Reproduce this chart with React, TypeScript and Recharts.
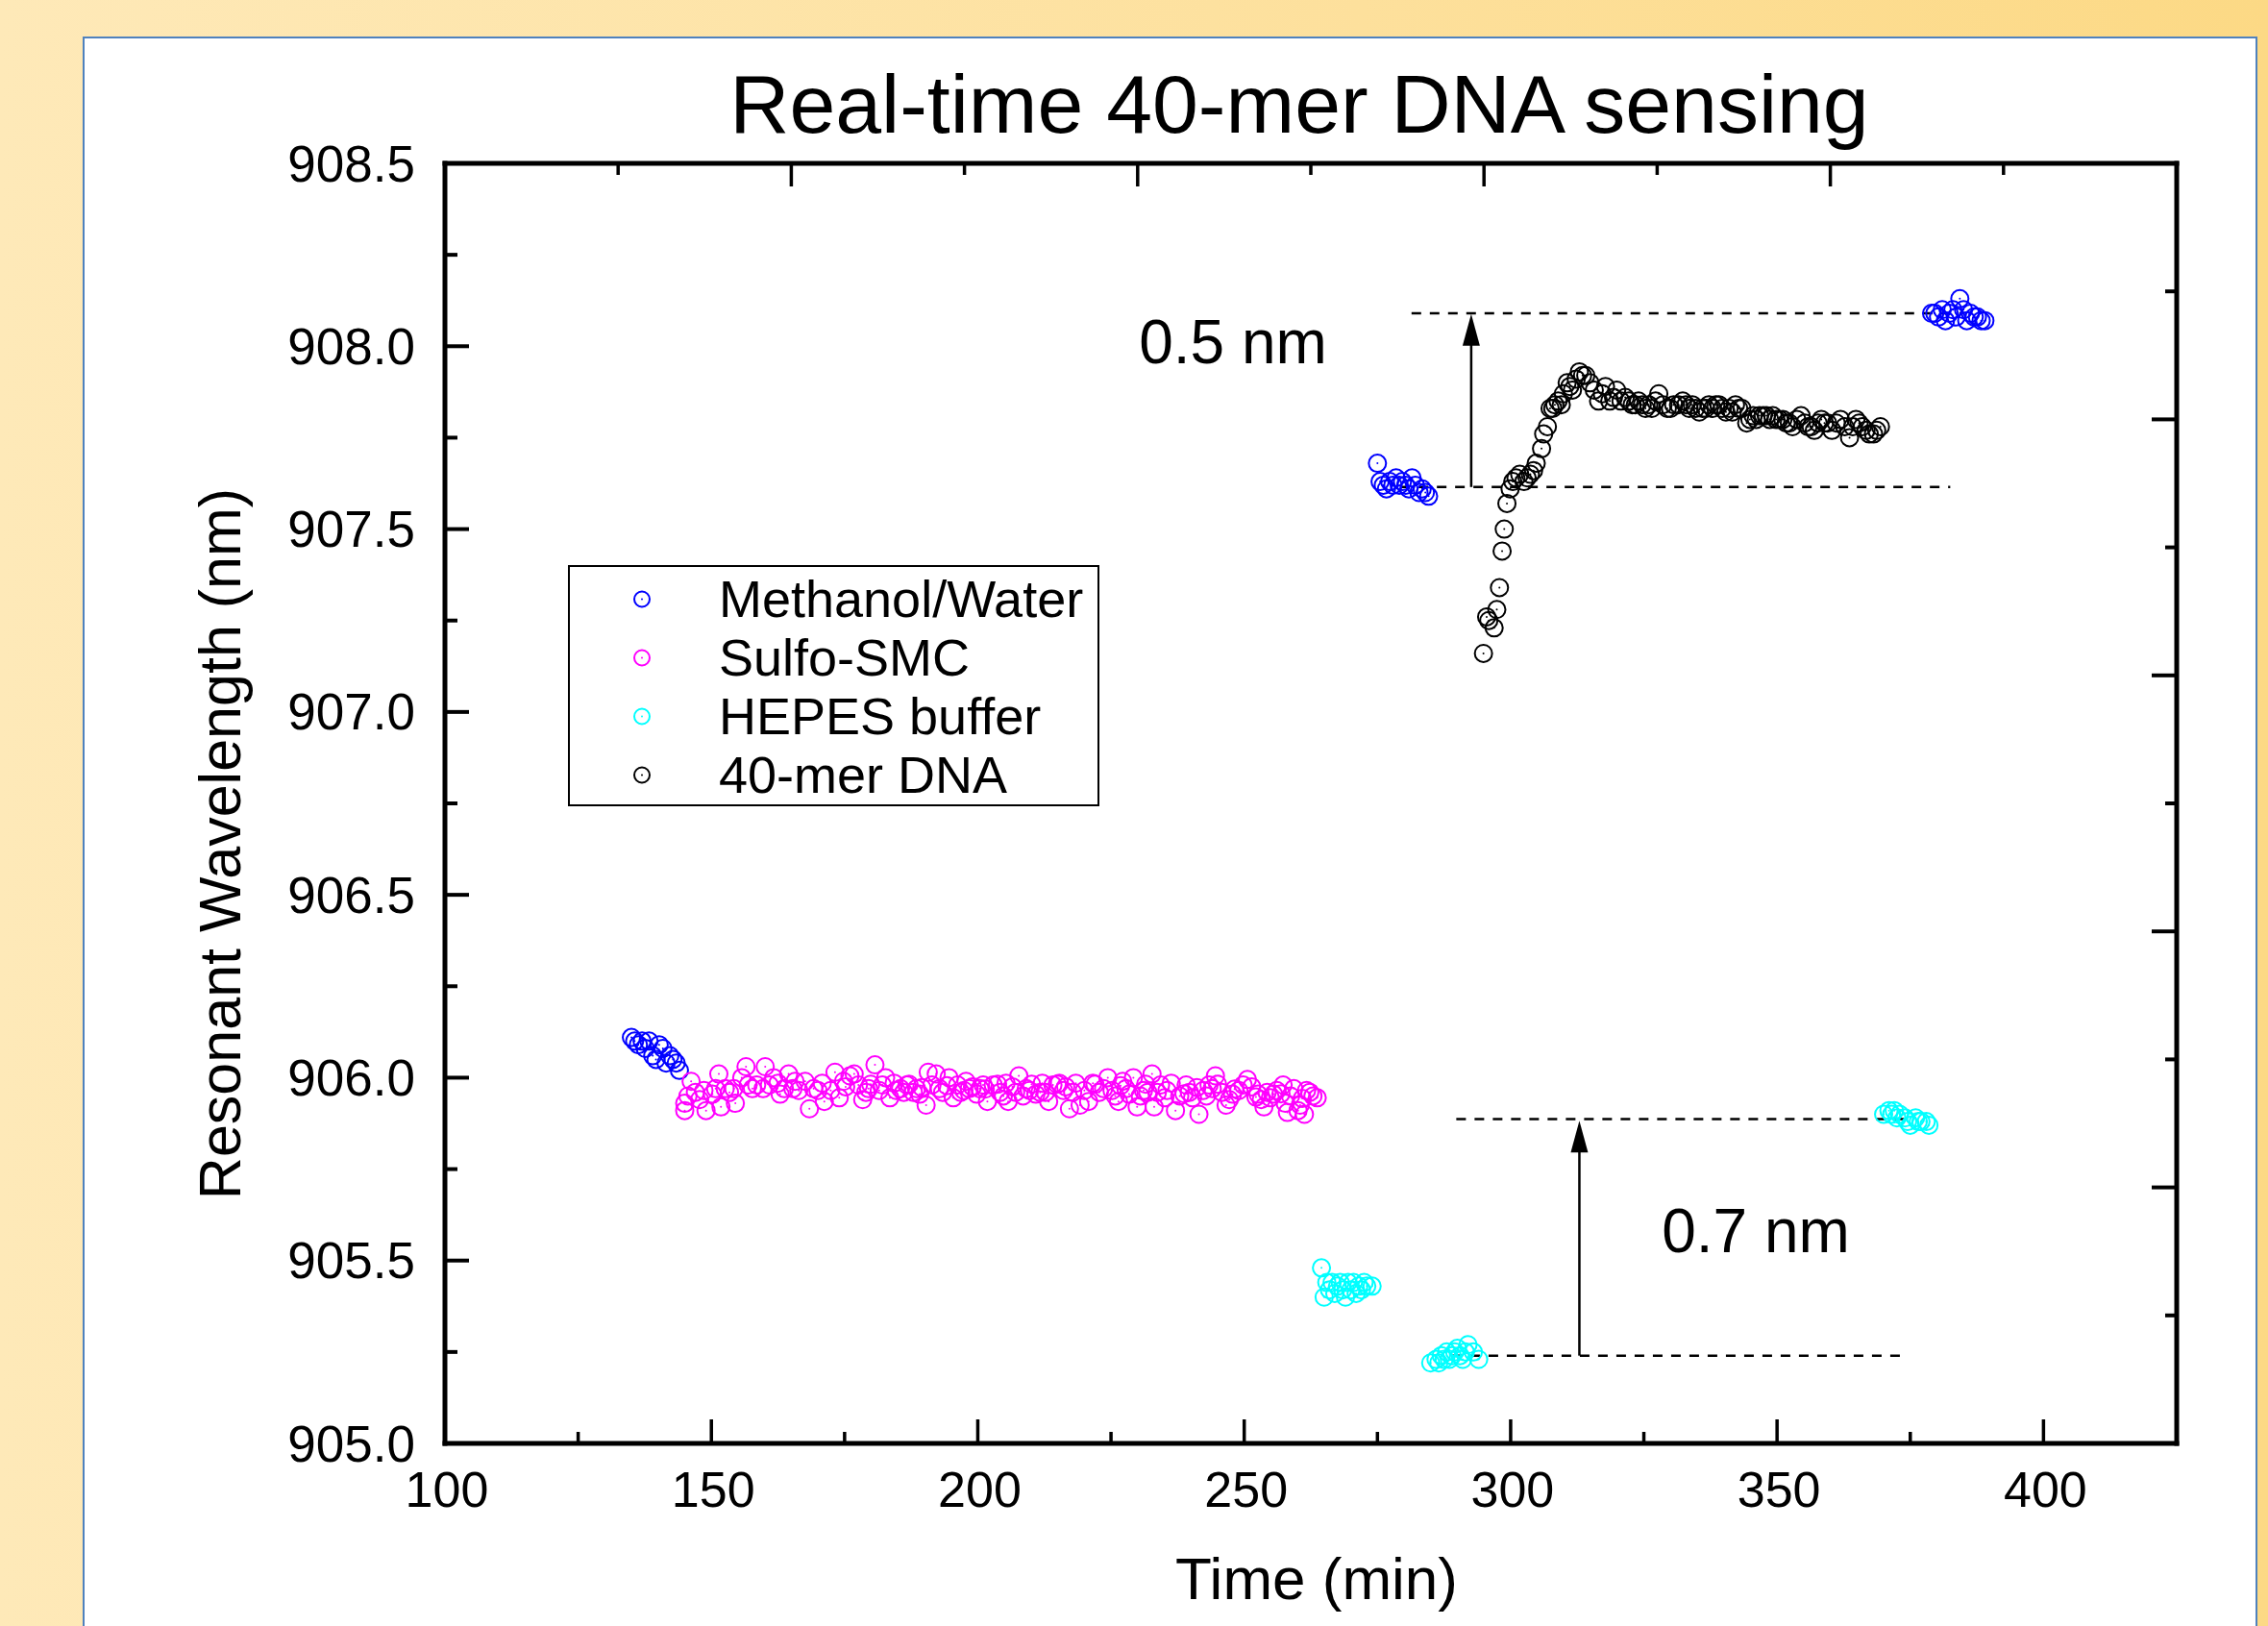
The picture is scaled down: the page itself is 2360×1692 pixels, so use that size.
import React from 'react';
import {
  ScatterChart,
  Scatter,
  XAxis,
  YAxis,
  Legend,
  Label,
  ReferenceLine,
  ReferenceDot,
} from 'recharts';

const FONT = '"Liberation Sans", Arial, Helvetica, sans-serif';

// [time (min), resonant wavelength (nm)]
const methanolWater: [number, number][] = [
  [135.0, 906.11], [135.6, 906.1], [136.3, 906.09], [137.0, 906.1], [137.6, 906.08], [138.3, 906.1],
  [139.0, 906.06], [139.6, 906.05], [140.2, 906.09], [140.9, 906.08], [141.5, 906.04], [142.2, 906.06],
  [142.8, 906.05], [143.4, 906.04], [144.0, 906.02],
  [275.0, 907.68], [275.5, 907.63], [276.1, 907.62], [276.7, 907.61], [277.3, 907.63], [277.9, 907.62],
  [278.5, 907.64], [279.1, 907.62], [279.7, 907.63], [280.3, 907.62], [280.9, 907.61], [281.5, 907.64],
  [282.1, 907.62], [282.8, 907.6], [283.4, 907.61], [284.0, 907.6], [284.6, 907.59],
  [379.0, 908.09], [379.6, 908.09], [380.3, 908.08], [381.0, 908.1], [381.6, 908.07], [382.3, 908.09],
  [383.0, 908.1], [383.6, 908.08], [384.3, 908.13], [385.0, 908.1], [385.6, 908.07], [386.3, 908.09],
  [387.0, 908.08], [387.6, 908.08], [388.3, 908.07], [389.0, 908.07],
];

const sulfoSmc: [number, number][] = [
  [145.0, 905.93], [145.0, 905.91], [145.6, 905.95], [146.2, 905.99], [147.0, 905.96], [147.8, 905.94],
  [148.6, 905.965], [149.0, 905.91], [150.2, 905.955], [150.8, 905.97], [151.4, 906.01], [151.8, 905.92],
  [152.6, 905.97], [153.4, 905.96], [154.2, 905.97], [154.5, 905.93], [155.7, 906.0], [156.5, 906.03],
  [156.9, 905.98], [157.7, 905.97], [158.5, 905.98], [159.7, 905.97], [160.1, 906.03], [160.9, 905.98],
  [161.7, 906.0], [162.5, 905.985], [162.9, 905.955], [163.7, 905.97], [164.5, 906.01], [165.3, 905.97],
  [165.7, 905.99], [166.4, 905.965], [167.6, 905.99], [168.4, 905.915], [169.2, 905.97], [170.0, 905.965],
  [170.8, 905.985], [171.2, 905.935], [172.4, 905.965], [173.2, 906.015], [174.0, 905.945], [174.8, 905.99],
  [175.2, 905.975], [176.0, 906.005], [176.8, 906.01], [177.6, 905.98], [178.4, 905.94], [179.0, 905.96],
  [179.5, 905.97], [179.9, 905.982], [180.7, 906.035], [181.5, 905.965], [182.1, 905.98], [182.7, 906.0],
  [183.5, 905.945], [184.3, 905.985], [184.7, 905.965], [185.5, 905.97], [186.1, 905.96], [186.7, 905.98],
  [187.1, 905.982], [187.9, 905.96], [188.5, 905.97], [189.1, 905.955], [189.5, 905.973], [190.3, 905.925],
  [190.7, 906.015], [191.4, 905.98], [192.2, 906.01], [192.8, 905.97], [193.4, 905.96], [194.2, 905.978],
  [194.6, 906.0], [195.4, 905.945], [196.2, 905.98], [196.8, 905.96], [197.4, 905.965], [197.8, 905.99],
  [198.4, 905.97], [199.0, 905.975], [199.8, 905.955], [200.4, 905.97], [201.0, 905.98], [201.4, 905.969],
  [201.8, 905.935], [202.9, 905.98], [203.7, 905.982], [204.2, 905.96], [204.8, 905.95], [205.3, 905.985],
  [205.7, 905.935], [206.5, 905.975], [207.1, 905.96], [207.7, 906.005], [208.5, 905.95], [209.1, 905.97],
  [209.7, 905.965], [210.1, 905.982], [210.9, 905.955], [211.7, 905.96], [212.1, 905.985], [212.7, 905.96],
  [213.3, 905.935], [214.1, 905.98], [214.9, 905.982], [215.3, 905.985], [216.1, 905.965], [216.5, 905.975],
  [217.2, 905.915], [217.8, 905.96], [218.4, 905.985], [219.2, 905.925], [220.0, 905.965], [220.8, 905.935],
  [221.6, 905.985], [222.0, 905.982], [222.8, 905.96], [223.6, 905.97], [224.4, 906.0], [225.2, 905.965],
  [225.8, 905.95], [226.4, 905.935], [226.8, 905.978], [227.2, 905.99], [227.8, 905.97], [228.4, 905.955],
  [229.2, 906.0], [229.9, 905.92], [230.5, 905.95], [231.1, 905.965], [231.5, 905.982], [231.9, 905.96],
  [232.7, 906.01], [233.1, 905.92], [233.7, 905.96], [234.3, 905.98], [235.1, 905.945], [235.5, 905.965],
  [236.3, 905.985], [237.1, 905.91], [237.9, 905.95], [238.7, 905.956], [239.1, 905.98], [239.7, 905.96],
  [240.3, 905.945], [241.1, 905.973], [241.5, 905.9], [242.3, 905.965], [242.9, 905.95], [243.4, 905.98],
  [244.0, 905.97], [244.6, 906.005], [245.0, 905.982], [245.8, 905.96], [246.6, 905.925], [247.2, 905.94],
  [247.8, 905.955], [248.2, 905.969], [249.0, 905.965], [249.8, 905.98], [250.6, 905.995], [251.4, 905.975],
  [252.2, 905.947], [252.6, 905.955], [253.2, 905.94], [253.7, 905.92], [254.3, 905.96], [254.9, 905.945],
  [255.5, 905.955], [256.1, 905.965], [256.9, 905.956], [257.3, 905.98], [257.7, 905.93], [258.1, 905.905],
  [258.7, 905.95], [259.3, 905.97], [260.1, 905.91], [260.5, 905.925], [260.9, 905.943], [261.3, 905.9],
  [261.7, 905.965], [262.3, 905.96], [262.9, 905.95], [263.7, 905.945],
];

const hepesBuffer: [number, number][] = [
  [264.5, 905.48], [265.0, 905.4], [265.5, 905.44], [266.0, 905.42], [266.5, 905.44], [267.0, 905.41],
  [267.5, 905.43], [268.0, 905.44], [268.5, 905.42], [269.0, 905.4], [269.5, 905.44], [270.0, 905.42],
  [270.5, 905.44], [271.0, 905.41], [271.5, 905.43], [272.0, 905.42], [272.5, 905.44], [273.0, 905.43],
  [274.0, 905.43],
  [285.0, 905.22], [286.0, 905.23], [286.5, 905.22], [287.0, 905.24], [287.5, 905.23], [288.0, 905.25],
  [288.5, 905.23], [289.0, 905.24], [289.5, 905.25], [290.0, 905.26], [290.5, 905.24], [291.0, 905.23],
  [291.5, 905.25], [292.0, 905.27], [293.0, 905.25], [294.0, 905.23],
  [370.0, 905.9], [371.0, 905.91], [371.5, 905.9], [372.0, 905.91], [372.5, 905.89], [373.0, 905.9],
  [374.0, 905.89], [374.5, 905.88], [375.0, 905.87], [376.0, 905.89], [376.5, 905.88], [377.0, 905.88],
  [378.0, 905.88], [378.5, 905.87],
];

const dna40mer: [number, number][] = [
  [294.9, 907.16], [295.5, 907.26], [295.9, 907.25], [296.9, 907.23], [297.4, 907.28], [297.9, 907.34],
  [298.4, 907.44], [298.8, 907.5], [299.3, 907.57], [299.9, 907.61], [300.4, 907.63], [301.0, 907.64],
  [301.7, 907.65], [302.5, 907.63], [303.1, 907.64], [303.7, 907.65], [304.3, 907.66], [304.8, 907.68],
  [305.8, 907.72], [306.2, 907.76], [306.9, 907.78], [307.4, 907.83], [307.9, 907.83], [308.3, 907.84],
  [308.9, 907.85], [309.5, 907.84], [309.9, 907.87], [310.6, 907.9], [311.1, 907.89], [311.6, 907.88],
  [312.3, 907.91], [312.9, 907.93], [313.5, 907.92], [314.1, 907.92], [314.9, 907.9], [315.7, 907.88],
  [316.5, 907.85], [317.2, 907.87], [317.8, 907.89], [318.6, 907.85], [319.3, 907.86], [319.9, 907.88],
  [320.7, 907.85], [321.5, 907.86], [322.2, 907.85], [322.8, 907.84], [323.4, 907.84], [324.0, 907.85],
  [324.7, 907.84], [325.3, 907.83], [325.9, 907.84], [326.5, 907.83], [327.2, 907.85], [327.8, 907.87],
  [328.6, 907.84], [329.4, 907.83], [330.0, 907.83], [330.6, 907.84], [331.5, 907.84], [332.3, 907.85],
  [332.9, 907.84], [333.5, 907.83], [334.1, 907.84], [334.7, 907.83], [335.4, 907.82], [336.0, 907.83],
  [336.6, 907.83], [337.2, 907.84], [337.9, 907.83], [338.5, 907.84], [339.1, 907.84], [339.7, 907.83],
  [340.4, 907.82], [341.0, 907.83], [341.6, 907.82], [342.2, 907.84], [342.8, 907.83], [343.4, 907.83],
  [344.3, 907.79], [344.9, 907.8], [345.5, 907.81], [346.1, 907.8], [346.7, 907.81], [347.4, 907.81],
  [348.0, 907.81], [348.6, 907.8], [349.2, 907.81], [349.8, 907.8], [350.4, 907.8], [351.1, 907.8],
  [351.7, 907.79], [352.3, 907.79], [352.9, 907.78], [353.7, 907.8], [354.5, 907.81], [355.2, 907.79],
  [355.8, 907.78], [356.4, 907.78], [357.0, 907.77], [357.7, 907.79], [358.3, 907.8], [358.9, 907.79],
  [359.5, 907.79], [360.3, 907.77], [361.1, 907.79], [361.9, 907.8], [362.7, 907.78], [363.6, 907.75],
  [364.2, 907.78], [364.8, 907.8], [365.4, 907.79], [366.0, 907.78], [366.7, 907.77], [367.3, 907.76],
  [368.1, 907.76], [368.7, 907.77], [369.4, 907.78],
];

const seriesNames = ['Methanol/Water', 'Sulfo-SMC', 'HEPES buffer', '40-mer DNA'];
const seriesColors = ['#0000FF', '#FF00FF', '#00FFFF', '#000000'];
const seriesData = [methanolWater, sulfoSmc, hepesBuffer, dna40mer];

const xTicks = [100, 125, 150, 175, 200, 225, 250, 275, 300, 325, 350, 375, 400, 425];
const yTicks = [905, 905.25, 905.5, 905.75, 906, 906.25, 906.5, 906.75, 907, 907.25, 907.5, 907.75, 908, 908.25, 908.5];
// the mirror axes on top / right carry their own tick spacing
const topDomain = [0, 10];
const rightDomain = [-1, 9];
const topTicks = [1, 2, 3, 4, 5, 6, 7, 8, 9];
const rightTicks = [0, 1, 2, 3, 4, 5, 6, 7, 8];

// dashed guide lines: [x start, x end, y]
const guideLines: [number, number, number][] = [
  [281.4, 384.4, 908.09],
  [279.3, 382.5, 907.615],
  [289.8, 374.0, 905.887],
  [289.0, 373.5, 905.24],
];
// arrows: [x, y from, y tip]
const arrows: [number, number, number][] = [
  [292.6, 907.615, 908.088],
  [312.9, 905.24, 905.882],
];
// shift labels: [x center, y baseline, text]
const shiftLabels: [number, number, string][] = [
  [247.9, 907.953, '0.5 nm'],
  [346.0, 905.524, '0.7 nm'],
];

const ring = (color: string) => (props: any) => (
  <g>
    <circle cx={props.cx} cy={props.cy} r={9} fill="none" stroke={color} strokeWidth={2} />
    <circle cx={props.cx} cy={props.cy} r={1} fill={color} />
  </g>
);

const LeftTick = ({ x, y, payload }: any) => {
  const v = payload.value;
  const major = Math.abs(v * 2 - Math.round(v * 2)) < 1e-6;
  return (
    <g>
      <line x1={x} x2={x + (major ? 25 : 13)} y1={y} y2={y} stroke="#000" strokeWidth={4} />
      {major && (
        <text x={x - 31} y={y} textAnchor="end" dominantBaseline="central" fontSize={53} fontFamily={FONT} fill="#000">
          {v.toFixed(1)}
        </text>
      )}
    </g>
  );
};

const BottomTick = ({ x, y, payload }: any) => {
  const v = payload.value;
  const major = v % 50 === 0;
  return (
    <g>
      <line x1={x} x2={x} y1={y} y2={y - (major ? 25 : 12)} stroke="#000" strokeWidth={3.5} />
      {major && v < 425 && (
        <text x={x + 2} y={y + 66} textAnchor="middle" fontSize={52} fontFamily={FONT} fill="#000">
          {v}
        </text>
      )}
    </g>
  );
};

const TopTick = ({ x, y, payload }: any) => {
  const major = payload.value % 2 === 0;
  return <line x1={x} x2={x} y1={y} y2={y + (major ? 24 : 12)} stroke="#000" strokeWidth={3.5} />;
};

const RightTick = ({ x, y, payload }: any) => {
  const major = payload.value % 2 === 1;
  return <line x1={x} x2={x - (major ? 26 : 12)} y1={y} y2={y} stroke="#000" strokeWidth={4} />;
};

const LegendBox = () => (
  <div
    style={{
      border: '2px solid #000',
      background: '#fff',
      width: 553,
      height: 251,
      boxSizing: 'border-box',
      paddingTop: 3,
    }}
  >
    {seriesNames.map((name, i) => (
      <div key={name} style={{ height: 61, display: 'flex', alignItems: 'center' }}>
        <svg width={155} height={61}>
          <circle cx={75} cy={30.5} r={8} fill="none" stroke={seriesColors[i]} strokeWidth={2} />
          <circle cx={75} cy={30.5} r={1} fill={seriesColors[i]} />
        </svg>
        <span style={{ fontSize: 54, fontFamily: FONT, color: '#000', lineHeight: '61px', whiteSpace: 'nowrap' }}>
          {name}
        </span>
      </div>
    ))}
  </div>
);

const axisLine = { stroke: '#000', strokeWidth: 5, strokeLinecap: 'square' as const };

const App = () => {
  return (
    <div
      style={{
        position: 'absolute',
        left: 0,
        top: 0,
        width: 2360,
        height: 1692,
        overflow: 'hidden',
        background: 'linear-gradient(to right, #FEE9B8 0%, #FDE09C 60%, #FCD985 100%)',
      }}
    >
      <div
        style={{
          position: 'absolute',
          left: 86,
          top: 38,
          width: 2263,
          height: 1700,
          background: '#fff',
          border: '2px solid #4F81BD',
          boxSizing: 'border-box',
        }}
      />
      <div style={{ position: 'absolute', left: 0, top: 0 }}>
        <ScatterChart width={2360} height={1692} margin={{ top: 160, right: 85, bottom: 90, left: 263 }}>
          <XAxis
            xAxisId="bottom"
            dataKey="x"
            type="number"
            domain={[100, 425]}
            ticks={xTicks}
            interval={0}
            height={100}
            axisLine={axisLine}
            tickLine={false}
            tickSize={0}
            tickMargin={0}
            tick={<BottomTick />}
          >
            <Label
              content={({ viewBox }: any) => (
                <text
                  x={viewBox.x + viewBox.width / 2 + 6}
                  y={viewBox.y + 162}
                  textAnchor="middle"
                  fontSize={62}
                  fontFamily={FONT}
                  fill="#000"
                >
                  Time (min)
                </text>
              )}
            />
          </XAxis>
          <XAxis
            xAxisId="top"
            orientation="top"
            dataKey="x"
            type="number"
            domain={topDomain}
            allowDataOverflow
            ticks={topTicks}
            interval={0}
            height={10}
            axisLine={axisLine}
            tickLine={false}
            tickSize={0}
            tickMargin={0}
            tick={<TopTick />}
          >
            <Label
              content={({ viewBox }: any) => (
                <text
                  x={viewBox.x + viewBox.width / 2 - 12}
                  y={viewBox.y - 22}
                  textAnchor="middle"
                  fontSize={86}
                  fontFamily={FONT}
                  fill="#000"
                >
                  Real-time 40-mer DNA sensing
                </text>
              )}
            />
          </XAxis>
          <YAxis
            yAxisId="left"
            dataKey="y"
            type="number"
            domain={[905, 908.5]}
            ticks={yTicks}
            interval={0}
            width={200}
            axisLine={axisLine}
            tickLine={false}
            tickSize={0}
            tickMargin={0}
            tick={<LeftTick />}
          >
            <Label
              content={({ viewBox }: any) => {
                const cx = viewBox.x - 13;
                const cy = viewBox.y + viewBox.height / 2 + 42;
                return (
                  <text
                    x={cx}
                    y={cy}
                    transform={`rotate(-90 ${cx} ${cy})`}
                    textAnchor="middle"
                    fontSize={61}
                    fontFamily={FONT}
                    fill="#000"
                  >
                    Resonant Wavelength (nm)
                  </text>
                );
              }}
            />
          </YAxis>
          <YAxis
            yAxisId="right"
            orientation="right"
            dataKey="y"
            type="number"
            domain={rightDomain}
            allowDataOverflow
            ticks={rightTicks}
            interval={0}
            width={10}
            axisLine={axisLine}
            tickLine={false}
            tickSize={0}
            tickMargin={0}
            tick={<RightTick />}
          />
          <Legend
            layout="vertical"
            align="center"
            verticalAlign="middle"
            wrapperStyle={{ left: 591, top: 588, width: 553, height: 251 }}
            content={<LegendBox />}
          />
          {/* invisible series that binds the mirror axes so their ticks get drawn */}
          <Scatter
            xAxisId="top"
            yAxisId="right"
            data={[
              { x: topDomain[0], y: rightDomain[0] },
              { x: topDomain[1], y: rightDomain[1] },
            ]}
            shape={() => <g />}
            legendType="none"
            isAnimationActive={false}
          />
          {seriesData.map((pts, i) => (
            <Scatter
              key={seriesNames[i]}
              name={seriesNames[i]}
              xAxisId="bottom"
              yAxisId="left"
              data={pts.map(([x, y]) => ({ x, y }))}
              fill={seriesColors[i]}
              shape={ring(seriesColors[i])}
              isAnimationActive={false}
            />
          ))}
          {guideLines.map(([x1, x2, y], i) => (
            <ReferenceLine
              key={`g${i}`}
              xAxisId="bottom"
              yAxisId="left"
              segment={[{ x: x1, y }, { x: x2, y }]}
              stroke="#000"
              strokeWidth={2.5}
              strokeDasharray="10 9"
            />
          ))}
          {arrows.map(([x, y1, y2], i) => (
            <ReferenceLine
              key={`a${i}`}
              xAxisId="bottom"
              yAxisId="left"
              segment={[{ x, y: y1 }, { x, y: y2 - 0.05 }]}
              stroke="#000"
              strokeWidth={2.5}
            />
          ))}
          {arrows.map(([x, , y2], i) => (
            <ReferenceDot
              key={`h${i}`}
              xAxisId="bottom"
              yAxisId="left"
              x={x}
              y={y2}
              shape={(p: any) => (
                <path d={`M${p.cx},${p.cy} L${p.cx - 9},${p.cy + 33} L${p.cx + 9},${p.cy + 33} Z`} fill="#000" />
              )}
            />
          ))}
          {shiftLabels.map(([x, y, t], i) => (
            <ReferenceDot
              key={`t${i}`}
              xAxisId="bottom"
              yAxisId="left"
              x={x}
              y={y}
              shape={(p: any) => (
                <text x={p.cx} y={p.cy} textAnchor="middle" fontSize={64} fontFamily={FONT} fill="#000">
                  {t}
                </text>
              )}
            />
          ))}
        </ScatterChart>
      </div>
    </div>
  );
};

export default App;
